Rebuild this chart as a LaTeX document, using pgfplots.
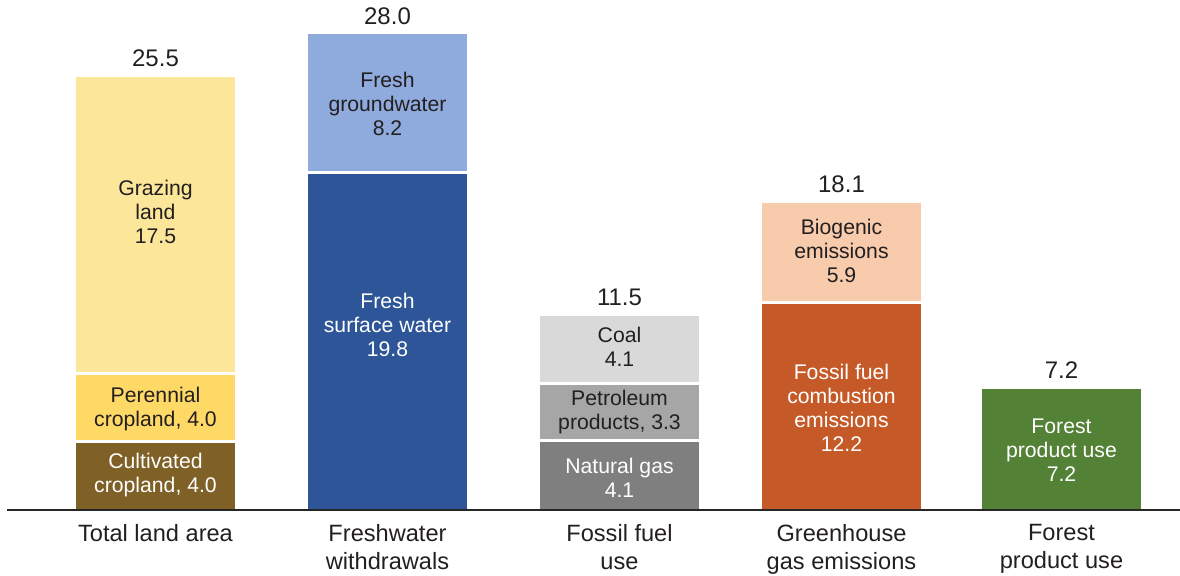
\documentclass[border=0pt]{standalone}
\usepackage{pgfplots}
\pgfplotsset{compat=1.18}
\usepackage{fontspec}
\setmainfont{Liberation Sans}
\definecolor{cGraz}{HTML}{FCE699}
\definecolor{cPer}{HTML}{FFD966}
\definecolor{cCult}{HTML}{7F6027}
\definecolor{cGround}{HTML}{8FAADC}
\definecolor{cSurf}{HTML}{2E5597}
\definecolor{cCoal}{HTML}{D9D9D9}
\definecolor{cPet}{HTML}{A6A6A6}
\definecolor{cGas}{HTML}{7F7F7F}
\definecolor{cBio}{HTML}{F8CBAD}
\definecolor{cFoss}{HTML}{C55A28}
\definecolor{cFor}{HTML}{538135}
\definecolor{txt}{HTML}{231F20}
\tikzset{
  tot/.style={font=\fontsize{12pt}{14pt}\selectfont, text=txt, anchor=base, inner sep=0pt, yshift=4.3pt},
  seg/.style={font=\fontsize{10.6pt}{12pt}\selectfont, align=center, inner sep=0pt},
}
\begin{document}
\begin{tikzpicture}
\useasboundingbox (-3.5pt,-32.5pt) rectangle (586.5pt,255pt);
\begin{axis}[
  scale only axis,
  width=586.5pt, height=255pt,
  xmin=7, xmax=1180, ymin=0, ymax=29.93,
  ybar stacked, bar width=162,
  axis on top,
  axis x line*=bottom, axis y line=none,
  x axis line style={-, line width=0.6pt, color=black!85},
  xtick={155.5,387.5,619.5,841.5,1061.5},
  xticklabels={Total land area,{Freshwater\\withdrawals},{Fossil fuel\\use},{Greenhouse\\gas emissions},{Forest\\product use}},
  major tick length=0pt,
  xticklabel style={align=center, font=\fontsize{11.8pt}{14pt}\selectfont, text=txt, yshift=-3.5pt},
  clip=false,
]
% bottom layer
\addplot[fill=cCult, draw=white, line width=1.5pt]   coordinates {(155.5,4.0) (387.5,0) (619.5,0) (841.5,0) (1061.5,0)};
\addplot[fill=cSurf, draw=white, line width=1.5pt]   coordinates {(155.5,0) (387.5,19.8) (619.5,0) (841.5,0) (1061.5,0)};
\addplot[fill=cGas, draw=white, line width=1.5pt]    coordinates {(155.5,0) (387.5,0) (619.5,4.1) (841.5,0) (1061.5,0)};
\addplot[fill=cFoss, draw=white, line width=1.5pt]   coordinates {(155.5,0) (387.5,0) (619.5,0) (841.5,12.2) (1061.5,0)};
\addplot[fill=cFor, draw=white, line width=1.5pt]    coordinates {(155.5,0) (387.5,0) (619.5,0) (841.5,0) (1061.5,7.2)};
% second layer
\addplot[fill=cPer, draw=white, line width=1.5pt]    coordinates {(155.5,4.0) (387.5,0) (619.5,0) (841.5,0) (1061.5,0)};
\addplot[fill=cGround, draw=white, line width=1.5pt] coordinates {(155.5,0) (387.5,8.2) (619.5,0) (841.5,0) (1061.5,0)};
\addplot[fill=cPet, draw=white, line width=1.5pt]    coordinates {(155.5,0) (387.5,0) (619.5,3.3) (841.5,0) (1061.5,0)};
\addplot[fill=cBio, draw=white, line width=1.5pt]    coordinates {(155.5,0) (387.5,0) (619.5,0) (841.5,5.9) (1061.5,0)};
% third layer
\addplot[fill=cGraz, draw=white, line width=1.5pt]   coordinates {(155.5,17.5) (387.5,0) (619.5,0) (841.5,0) (1061.5,0)};
\addplot[fill=cCoal, draw=white, line width=1.5pt]   coordinates {(155.5,0) (387.5,0) (619.5,4.1) (841.5,0) (1061.5,0)};

% totals
\coordinate (t1) at (axis cs:155.5,25.5);
\coordinate (t2) at (axis cs:387.5,28.0);
\coordinate (t3) at (axis cs:619.5,11.5);
\coordinate (t4) at (axis cs:841.5,18.1);
\coordinate (t5) at (axis cs:1061.5,7.2);
% segment label positions
\coordinate (s1) at (axis cs:155.5,17.49);
\coordinate (s2) at (axis cs:155.5,5.93);
\coordinate (s3) at (axis cs:155.5,2.03);
\coordinate (s4) at (axis cs:387.5,23.83);
\coordinate (s5) at (axis cs:387.5,10.86);
\coordinate (s6) at (axis cs:619.5,9.6);
\coordinate (s7) at (axis cs:619.5,5.75);
\coordinate (s8) at (axis cs:619.5,1.88);
\coordinate (s9) at (axis cs:841.5,15.2);
\coordinate (s10) at (axis cs:841.5,5.99);
\coordinate (s11) at (axis cs:1061.5,3.52);
\end{axis}
\node[tot] at (t1) {25.5};
\node[tot] at (t2) {28.0};
\node[tot] at (t3) {11.5};
\node[tot] at (t4) {18.1};
\node[tot] at (t5) {7.2};
\node[seg, text=txt]   at (s1) {Grazing\\land\\17.5};
\node[seg, text=txt]   at (s2) {Perennial\\cropland, 4.0};
\node[seg, text=white] at (s3) {Cultivated\\cropland, 4.0};
\node[seg, text=txt]   at (s4) {Fresh\\groundwater\\8.2};
\node[seg, text=white] at (s5) {Fresh\\surface water\\19.8};
\node[seg, text=txt]   at (s6) {Coal\\4.1};
\node[seg, text=txt]   at (s7) {Petroleum\\products, 3.3};
\node[seg, text=white] at (s8) {Natural gas\\4.1};
\node[seg, text=txt]   at (s9) {Biogenic\\emissions\\5.9};
\node[seg, text=white] at (s10) {Fossil fuel\\combustion\\emissions\\12.2};
\node[seg, text=white] at (s11) {Forest\\product use\\7.2};
\end{tikzpicture}
\end{document}
